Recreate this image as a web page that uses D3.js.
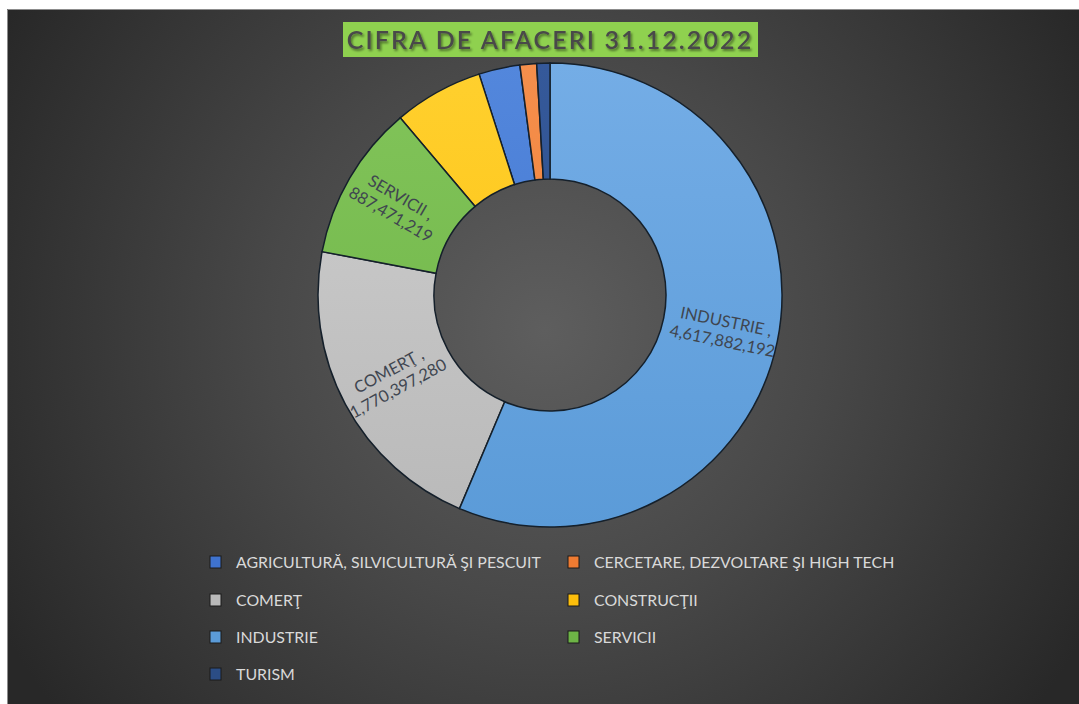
<!DOCTYPE html>
<html>
<head>
<meta charset="utf-8">
<script src="https://cdn.jsdelivr.net/npm/d3@7"></script>
<style>
  html, body { margin: 0; padding: 0; background: #ffffff; }
  #canvas { width: 1079px; height: 704px; overflow: hidden; }
</style>
</head>
<body>
<div id="canvas"></div>
<script>
// Constants
const w = 1079;
const h = 704;
const cx = 550;
const cy = 295;
const outerR = 232;
const innerR = 116;
const font = "Lato, 'Open Sans', sans-serif";

// Data (legend order)
const categories = [
  "AGRICULTURĂ, SILVICULTURĂ ŞI PESCUIT",
  "CERCETARE, DEZVOLTARE ŞI HIGH TECH",
  "COMERŢ",
  "CONSTRUCŢII",
  "INDUSTRIE",
  "SERVICII",
  "TURISM"
];
const values = [235000000, 95000000, 1770397280, 510000000, 4617882192, 887471219, 75000000];
const colors = ["#3f73cf", "#ee7b32", "#b9b9b9", "#fdbf0c", "#5b9bd8", "#6db446", "#2b4d85"];
const lightColors = ["#5387dc", "#f58f4c", "#cfcfcf", "#ffd02e", "#74ade6", "#82c45a", "#35599a"];
const labelled = ["COMERŢ", "INDUSTRIE", "SERVICII"];
const title = "CIFRA DE AFACERI 31.12.2022";

const rows = categories.map((c, i) => ({ name: c, value: values[i], color: colors[i], light: lightColors[i], idx: i }));

// SVG setup
const svg = d3.select("#canvas").append("svg")
  .attr("width", w)
  .attr("height", h);

const defs = svg.append("defs");

const bg = defs.append("radialGradient")
  .attr("id", "bg")
  .attr("gradientUnits", "userSpaceOnUse")
  .attr("cx", 545).attr("cy", 330).attr("r", 620);
bg.append("stop").attr("offset", "0%").attr("stop-color", "#5e5e5e");
bg.append("stop").attr("offset", "45%").attr("stop-color", "#484848");
bg.append("stop").attr("offset", "100%").attr("stop-color", "#282828");

rows.forEach(d => {
  const g = defs.append("linearGradient")
    .attr("id", `slice-${d.idx}`)
    .attr("gradientUnits", "userSpaceOnUse")
    .attr("x1", 0).attr("y1", -outerR)
    .attr("x2", 0).attr("y2", outerR);
  g.append("stop").attr("offset", "0%").attr("stop-color", d.light);
  g.append("stop").attr("offset", "100%").attr("stop-color", d.color);
});

const shadow = defs.append("filter").attr("id", "tshadow")
  .attr("x", "-10%").attr("y", "-30%").attr("width", "120%").attr("height", "160%");
shadow.append("feDropShadow")
  .attr("dx", 1.5).attr("dy", 2).attr("stdDeviation", 0.8)
  .attr("flood-color", "#000").attr("flood-opacity", 0.45);

// Background panel
svg.append("rect")
  .attr("x", 7).attr("y", 9)
  .attr("width", w).attr("height", h)
  .attr("fill", "url(#bg)");
svg.append("path")
  .attr("d", `M7.5,${h} V9.5 H${w}`)
  .attr("fill", "none")
  .attr("stroke", "#8c8c8c")
  .attr("stroke-width", 1);

// Title
svg.append("rect")
  .attr("x", 343).attr("y", 22)
  .attr("width", 415).attr("height", 35)
  .attr("fill", "#8fd14f");

svg.append("text")
  .attr("x", 550).attr("y", 49)
  .attr("text-anchor", "middle")
  .style("font-family", font)
  .style("font-size", "25px")
  .style("font-weight", "600")
  .style("letter-spacing", "2.1px")
  .attr("fill", "#4a4a4a")
  .attr("filter", "url(#tshadow)")
  .text(title);

// Donut
const pie = d3.pie().value(d => d.value)
  .sort((a, b) => b.value - a.value);
const arc = d3.arc().innerRadius(innerR).outerRadius(outerR);
const arcs = pie(rows);

const chart = svg.append("g").attr("transform", `translate(${cx},${cy})`);

chart.selectAll("path.slice")
  .data(arcs)
  .join("path")
  .attr("class", "slice")
  .attr("d", arc)
  .attr("fill", d => `url(#slice-${d.data.idx})`)
  .attr("stroke", "#15202b")
  .attr("stroke-width", 1.5);

// Data labels
const fmt = d3.format(",");
const labelR = (innerR + outerR) / 2 + 4;

arcs.filter(d => labelled.includes(d.data.name)).forEach(d => {
  const a = (d.startAngle + d.endAngle) / 2;
  const deg = a * 180 / Math.PI;
  const x = Math.sin(a) * labelR;
  const y = -Math.cos(a) * labelR;
  const rot = deg < 180 ? deg - 90 : deg - 270;
  const t = chart.append("text")
    .attr("transform", `translate(${x},${y}) rotate(${rot})`)
    .attr("text-anchor", "middle")
    .style("font-family", font)
    .style("font-size", "16.5px")
    .attr("fill", "#3f4650");
  t.append("tspan").attr("x", 0).attr("dy", "-0.2em").text(`${d.data.name} ,`);
  t.append("tspan").attr("x", 0).attr("dy", "1.2em").text(fmt(d.data.value));
});

// Legend
const legendCols = [210, 568];
const legendRows = [562, 600, 637, 674];

const legend = svg.append("g").attr("class", "legend");
rows.forEach((d, i) => {
  const lx = legendCols[i % 2];
  const ly = legendRows[Math.floor(i / 2)];
  legend.append("rect")
    .attr("x", lx).attr("y", ly - 6)
    .attr("width", 11).attr("height", 12)
    .attr("fill", d.color)
    .attr("stroke", "#1a1a1a")
    .attr("stroke-width", 1);
  legend.append("text")
    .attr("x", lx + 26).attr("y", ly + 5.5)
    .style("font-family", font)
    .style("font-size", "15.9px")
    .attr("fill", "#d9d9d9")
    .text(d.name);
});
</script>
</body>
</html>
